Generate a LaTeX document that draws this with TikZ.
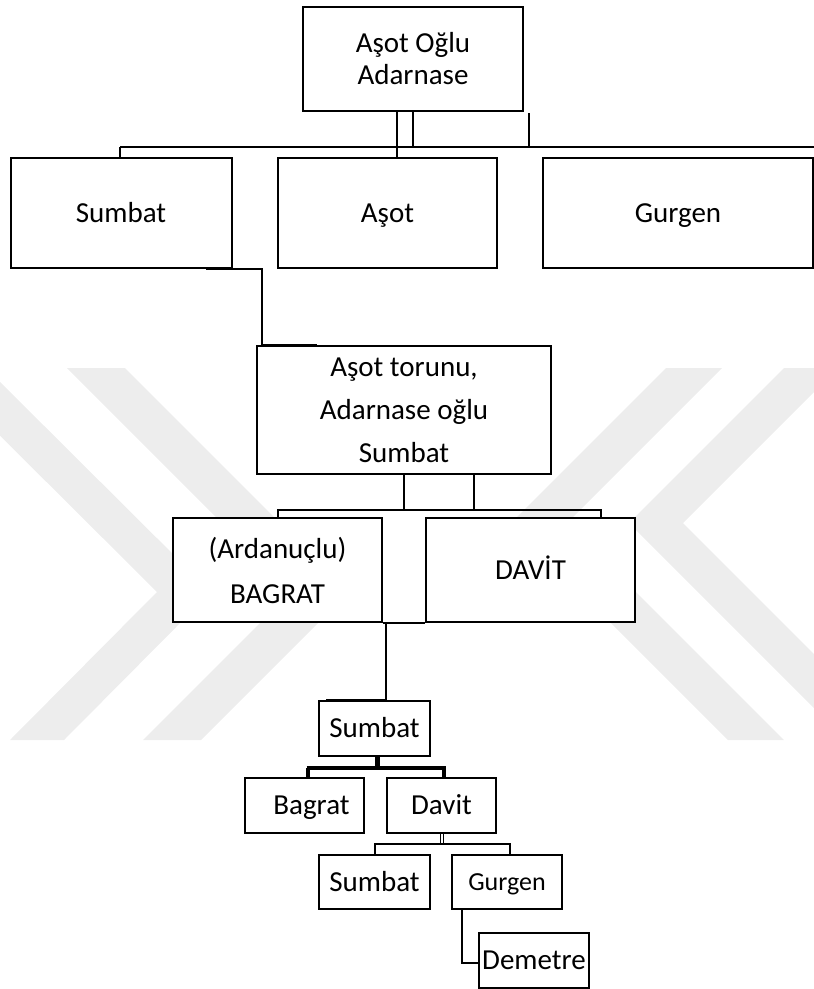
\documentclass[tikz,border=0pt]{standalone}
\usepackage{fontspec}
\setmainfont{Carlito}
\usetikzlibrary{calc}
\begin{document}
\begin{tikzpicture}[x=1pt,y=-1pt,
  box/.style={draw=black, fill=white, line width=2pt, rectangle, inner sep=0pt, align=center, font=\fontsize{29}{32}\selectfont},
  one/.style={text height=18.7pt, text depth=0pt},
  conn/.style={draw=black, line width=1.6pt},
  thickconn/.style={draw=black, line width=4pt},
  wm/.style={fill=black!7, draw=none}]
\useasboundingbox (0,0) rectangle (814,989);
\clip (0,0) rectangle (814,989);
% watermark
\fill[wm] (-68,368) -- (-14,368) -- (211,592) -- (64,740) -- (10,740) -- (157,592) -- cycle;
\fill[wm] (67,368) -- (125,368) -- (349,592) -- (201,740) -- (143,740) -- (291,592) -- cycle;
\fill[wm] (784,368) -- (838,368) -- (683,523) -- (900,740) -- (846,740) -- (629,523) -- cycle;
\fill[wm] (666,368) -- (722,368) -- (567,523) -- (784,740) -- (728,740) -- (511,523) -- cycle;
% boxes
\node[box, minimum width=220, minimum height=104] (top) at (413,59) {Aşot Oğlu\\Adarnase};
\node[box, one, minimum width=221, minimum height=110] (s1) at (121,213) {Sumbat};
\node[box, one, minimum width=219, minimum height=110] (aso) at (387.5,213) {Aşot};
\node[box, one, minimum width=270, minimum height=110] (gur) at (678,213) {Gurgen};
\node[box, minimum width=294, minimum height=128, font=\fontsize{29}{43}\selectfont] (mid) at (404,410) {Aşot torunu,\\Adarnase oğlu\\Sumbat};
\node[box, minimum width=209, minimum height=104, font=\fontsize{29}{45}\selectfont] (bag) at (277.5,570) {(Ardanuçlu)\\BAGRAT};
\node[box, one, minimum width=209, minimum height=104] (dav) at (530.5,570) {DAVİT};
\node[box, one, minimum width=111, minimum height=55] (s2) at (374.5,728.5) {Sumbat};
\node[box, one, minimum width=119, minimum height=55] (bag2) at (304.5,805.5) {\hspace*{14pt}Bagrat};
\node[box, one, minimum width=109, minimum height=55] (dav2) at (441.5,805.5) {Davit};
\node[box, one, minimum width=111, minimum height=54] (s3) at (374.5,882) {Sumbat};
\node[box, minimum width=110, minimum height=54, font=\fontsize{26}{30}\selectfont, text height=16.7pt, text depth=0pt] (gur2) at (507,882) {Gurgen};
\node[box, one, minimum width=110, minimum height=55] (dem) at (534,960.5) {Demetre};
% top connectors
\coordinate (busL) at (120,147);
\coordinate (busR) at (814,147);
\draw[conn] (busL) -- (busR);
\draw[conn] (busL) -- (busL |- s1.north);
\draw[conn] ([xshift=-16]top.south) -- ([xshift=-16]top.south |- aso.north);
\draw[conn] (top.south) -- (top.south |- busL);
\draw[conn] ([xshift=5,yshift=-1]top.south east) -- ([xshift=5]top.south east |- busL);
% Sumbat -> middle
\coordinate (k1) at (262,269);
\draw[conn] ([xshift=-27]s1.south east) -- (k1) -- (k1 |- mid.north) -- ([xshift=61]mid.north west);
% middle -> children
\coordinate (b2) at (278,510);
\coordinate (b2r) at (601,510);
\draw[conn] (mid.south) -- (mid.south |- b2);
\draw[conn] ([xshift=70]mid.south) -- ([xshift=70]mid.south |- b2);
\draw[conn] (b2 |- bag.north) -- (b2) -- (b2r) -- (b2r |- dav.north);
% BAGRAT -> Sumbat
\draw[conn] (bag.south east) -- (dav.south west);
\coordinate (k2) at ([xshift=3]bag.south east);
\draw[conn] (k2) -- (k2 |- s2.north) -- ([xshift=8]s2.north west);
% Sumbat -> Bagrat, Davit
\coordinate (b3) at (308,768);
\coordinate (b3r) at (444,768);
\draw[draw=black, line width=5pt] ([xshift=2.5]s2.south) -- ([xshift=2.5]s2.south |- b3);
\draw[thickconn] ([xshift=-1.5]b3) -- ([xshift=1.5]b3r);
\draw[draw=black, line width=3.5pt] (b3) -- (b3 |- bag2.north);
\draw[draw=black, line width=3.5pt] (b3r) -- (b3r |- dav2.north);
% Davit -> Sumbat, Gurgen
\draw[draw=black, line width=1.2pt] ([xshift=-1]dav2.south) -- ([xshift=-1,yshift=-11]dav2.south);
\draw[draw=black, line width=1.2pt] ([xshift=2]dav2.south) -- ([xshift=2,yshift=-11]dav2.south);
\coordinate (b4) at (375,844);
\coordinate (b4r) at (510,844);
\draw[conn] (b4 |- s3.north) -- (b4) -- (b4r) -- (b4r |- gur2.north);
% Gurgen -> Demetre
\draw[conn] ([xshift=11]gur2.south west) |- ([yshift=-2.5]dem.west);
\end{tikzpicture}
\end{document}
